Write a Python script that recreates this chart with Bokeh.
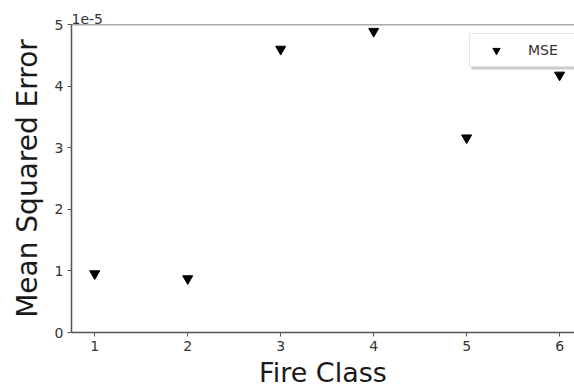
from bokeh.plotting import figure
from bokeh.models import (Range1d, FixedTicker, CustomJSTickFormatter, Span,
                          Legend, LegendItem, Title, BoxAnnotation)
from bokeh.embed import file_html
from bokeh.resources import INLINE

fire_class = [1, 2, 3, 4, 5, 6]
mse = [0.955e-5, 0.874e-5, 4.60e-5, 4.89e-5, 3.16e-5, 4.18e-5]
x_ticks = [1, 2, 3, 4, 5, 6]
y_ticks = [0, 1e-5, 2e-5, 3e-5, 4e-5, 5e-5]
x_label = "Fire Class"
y_label = "Mean Squared Error"
series_name = "MSE"
offset_text = "1e-5"

FONT = "DejaVu Sans"
SPINE = "#555555"

p = figure(width=574, height=390, output_backend="svg", toolbar_location=None,
           x_range=Range1d(0.75, 6.16), y_range=Range1d(0, 5e-5),
           min_border_left=71, min_border_right=0, min_border_top=24,
           min_border_bottom=57, background_fill_color="white",
           border_fill_color="white")
p.outline_line_color = None
p.grid.visible = False

p.title = Title(text=offset_text, align="left", text_font=FONT,
                text_font_size="14px", text_font_style="normal",
                text_color="#333333", offset=0, standoff=2)

r = p.scatter(fire_class, mse, marker="inverted_triangle", size=10,
              fill_color="black", line_color="black")

p.add_layout(Span(location=5e-5, dimension="width", line_color=SPINE,
                  line_width=1.5))

for ax in (p.xaxis[0], p.yaxis[0]):
    ax.axis_line_color = SPINE
    ax.axis_line_width = 1.5
    ax.major_tick_line_color = SPINE
    ax.major_tick_line_width = 1
    ax.major_tick_out = 4
    ax.major_tick_in = 0
    ax.minor_tick_line_color = None
    ax.major_label_text_font = FONT
    ax.major_label_text_font_size = "14px"
    ax.major_label_text_color = "#333333"
    ax.axis_label_text_font = FONT
    ax.axis_label_text_font_style = "normal"
    ax.axis_label_text_color = "#1a1a1a"

p.xaxis.ticker = FixedTicker(ticks=x_ticks)
p.yaxis.ticker = FixedTicker(ticks=y_ticks)
p.yaxis.formatter = CustomJSTickFormatter(code="return Math.round(tick*1e5).toString();")
p.xaxis.axis_label = x_label
p.yaxis.axis_label = y_label
p.xaxis.axis_label_text_font_size = "27px"
p.yaxis.axis_label_text_font_size = "28px"
p.xaxis.axis_label_standoff = 3
p.yaxis.axis_label_standoff = 8
p.xaxis.major_label_standoff = 4
p.yaxis.major_label_standoff = 4

shadow = BoxAnnotation(left=400, right=506, top=296, bottom=263,
                       left_units="screen", right_units="screen",
                       top_units="screen", bottom_units="screen",
                       fill_color="#999999", fill_alpha=0.5, line_color=None,
                       editable=False)
p.add_layout(shadow)

legend = Legend(items=[LegendItem(label=series_name, renderers=[r])],
                location=(398, 265), padding=7, margin=0, spacing=0,
                glyph_width=38, glyph_height=18, label_height=18,
                label_width=39, label_standoff=13,
                label_text_font=FONT, label_text_font_size="14px",
                label_text_color="#333333",
                border_line_color="#cccccc", border_line_width=1,
                background_fill_color="white", background_fill_alpha=1)
p.add_layout(legend, "center")

open("out.html", "w").write(file_html(p, INLINE))
